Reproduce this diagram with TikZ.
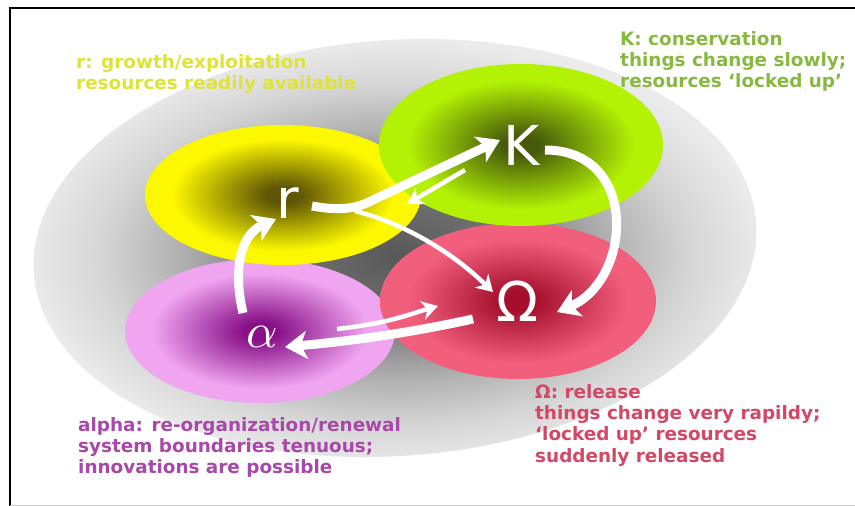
\documentclass[tikz,border=0pt]{standalone}
\usepackage{fontspec}
\setmainfont{DejaVu Sans}
\newfontfamily\symfont{DejaVu Sans}
\usetikzlibrary{arrows.meta}

\definecolor{gin}{RGB}{88,88,88}
\definecolor{gmid}{RGB}{112,112,112}
\definecolor{gout}{RGB}{180,180,180}
\definecolor{gout2}{RGB}{214,214,214}
\definecolor{gedge}{RGB}{235,235,235}

\definecolor{ydark}{RGB}{95,85,5}
\definecolor{yedge}{RGB}{252,248,0}
\definecolor{kdark}{RGB}{70,90,10}
\definecolor{kedge}{RGB}{180,242,5}
\definecolor{odark}{RGB}{165,15,45}
\definecolor{oedge}{RGB}{242,95,125}
\definecolor{adark}{RGB}{135,15,135}
\definecolor{aedge}{RGB}{240,165,240}

\definecolor{ytext}{RGB}{222,228,55}
\definecolor{ktext}{RGB}{135,185,65}
\definecolor{atext}{RGB}{168,72,168}
\definecolor{otext}{RGB}{210,72,102}

\pgfdeclareradialshading{grayblob}{\pgfpoint{0bp}{0bp}}{color(0bp)=(gin); color(7bp)=(gmid); color(15bp)=(gout); color(20bp)=(gout2); color(25bp)=(gedge); color(50bp)=(gedge)}
\pgfdeclareradialshading{yblob}{\pgfpoint{0bp}{0bp}}{color(0bp)=(ydark); color(3bp)=(ydark); color(20bp)=(yedge); color(50bp)=(yedge)}
\pgfdeclareradialshading{kblob}{\pgfpoint{0bp}{0bp}}{color(0bp)=(kdark); color(3bp)=(kdark); color(20bp)=(kedge); color(50bp)=(kedge)}
\pgfdeclareradialshading{oblob}{\pgfpoint{0bp}{0bp}}{color(0bp)=(odark); color(3bp)=(odark); color(20bp)=(oedge); color(50bp)=(oedge)}
\pgfdeclareradialshading{ablob}{\pgfpoint{0bp}{0bp}}{color(0bp)=(adark); color(3bp)=(adark); color(20bp)=(aedge); color(50bp)=(aedge)}

\tikzset{
  bigarrow/.style={draw=white, line width=9pt, -{Stealth[length=22pt,width=28pt,inset=6pt]}},
  thinarrow/.style={draw=white, line width=4.5pt, -{Stealth[length=16pt,width=19pt,inset=5pt]}},
  phase/.style={text=white, inner sep=0pt, font=\symfont\fontsize{55}{55}\selectfont},
  caption/.style={anchor=north west, inner sep=0pt, align=left, font=\bfseries\fontsize{18.4}{21.3}\selectfont}
}

\begin{document}
\begin{tikzpicture}[x=1pt,y=-1pt]
\useasboundingbox (0,0) rectangle (855,506);
\fill[white] (0,0) rectangle (855,506);

% background and phase blobs
\shade[shading=grayblob, rotate around={4:(395,248)}] (395,248) ellipse (362 and 208);
\shade[shading=ablob] (260,331) ellipse (135 and 72);
\shade[shading=yblob] (283,195) ellipse (138 and 70);
\shade[shading=oblob] (518,301) ellipse (138 and 78);
\shade[shading=kblob] (521,145) ellipse (142 and 81);

% phase labels
\node[phase] (r) at (288,203) {r};
\node[phase] (K) at (522,145) {K};
\node[phase] (O) at (518,301) {Ω};
\node[text=white, inner sep=0pt, scale=4.9] (a) at (262,337) {$\alpha$};

% connector end points
\coordinate (a1s) at (243,313);
\coordinate (r1e) at (276,219);
\coordinate (r2s) at (312,206);
\coordinate (K1e) at (500,140);
\coordinate (r3s) at (355,211);
\coordinate (O1e) at (493,292);
\coordinate (K2s) at (465,170);
\coordinate (r4e) at (407,204);
\coordinate (K3s) at (545,150);
\coordinate (O2e) at (557,312);
\coordinate (O3s) at (473,319);
\coordinate (a2e) at (285,347);
\coordinate (a3s) at (337,329);
\coordinate (O4e) at (438,306);

% connectors
\draw[bigarrow] (a1s) .. controls (233,270) and (240,235) .. (r1e);
\draw[bigarrow] (r2s) .. controls (345,212) and (360,207) .. (375,199) -- (K1e);
\draw[thinarrow] (r3s) .. controls (400,222) and (450,250) .. (O1e);
\draw[thinarrow] (K2s) -- (r4e);
\draw[bigarrow] (K3s) .. controls (640,150) and (632,280) .. (O2e);
\draw[bigarrow] (O3s) .. controls (400,335) and (340,342) .. (a2e);
\draw[thinarrow] (a3s) .. controls (390,323) and (410,314) .. (O4e);

% captions
\node[caption, text=ytext] (rc) at (76,54) {r: growth/exploitation\\resources readily available};
\node[caption, text=ktext] (kc) at (620,31) {K: conservation\\things change slowly;\\resources ‘locked up’};
\node[caption, text=atext] (ac) at (78,417) {alpha: re-organization/renewal\\system boundaries tenuous;\\innovations are possible};
\node[caption, text=otext] (oc) at (535,384) {Ω: release\\things change very rapildy;\\‘locked up’ resources\\suddenly released};

% frame
\draw[line width=2.5pt] (856,8) -- (10,8) -- (10,506);
\draw[gray!40, line width=1pt] (10,505) -- (855,505);
\end{tikzpicture}
\end{document}
